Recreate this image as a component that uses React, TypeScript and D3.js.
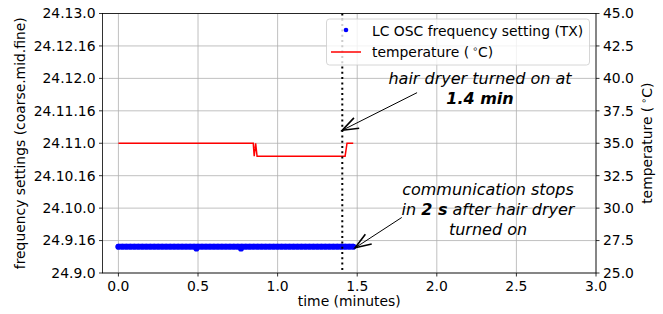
import * as d3 from "d3";

// frequency setting samples: time (minutes) and fine steps above 24.9.0
const freqTimes = [
  0, 0.025, 0.05, 0.075, 0.1, 0.125, 0.15, 0.175, 0.2, 0.225, 0.25, 0.275, 0.3,
  0.325, 0.35, 0.375, 0.4, 0.425, 0.45, 0.475, 0.49, 0.5, 0.525, 0.55, 0.575,
  0.6, 0.625, 0.65, 0.675, 0.7, 0.725, 0.75, 0.77, 0.775, 0.8, 0.825, 0.85,
  0.875, 0.9, 0.925, 0.95, 0.975, 1.0, 1.025, 1.05, 1.075, 1.1, 1.125, 1.15,
  1.175, 1.2, 1.225, 1.25, 1.275, 1.3, 1.325, 1.35, 1.375, 1.4, 1.425, 1.45,
  1.475,
];
const freqSteps = [
  13, 13, 13, 13, 13, 13, 13, 13, 13, 13, 13, 13, 13, 13, 13, 13, 13, 13, 13,
  13, 12, 13, 13, 13, 13, 13, 13, 13, 13, 13, 13, 13, 12, 13, 13, 13, 13, 13,
  13, 13, 13, 13, 13, 13, 13, 13, 13, 13, 13, 13, 13, 13, 13, 13, 13, 13, 13,
  13, 13, 13, 13, 13,
];

// temperature trace
const tempTimes = [0, 0.847, 0.853, 0.862, 0.871, 1.424, 1.436, 1.475];
const tempValues = [35, 35, 34, 35, 34, 34, 35, 35];

const xTicks = [0, 0.5, 1.0, 1.5, 2.0, 2.5, 3.0];
const leftTickSteps = [0, 16, 32, 48, 64, 80, 96, 112, 128];
const leftTickLabels = [
  "24.9.0", "24.9.16", "24.10.0", "24.10.16", "24.11.0",
  "24.11.16", "24.12.0", "24.12.16", "24.13.0",
];
const rightTicks = [25, 27.5, 30, 32.5, 35, 37.5, 40, 42.5, 45];

const dryerOnTime = 1.4;

const W = 663;
const H = 314;
const FONT = "DejaVu Sans, sans-serif";
const FS = 13.9;

function Arrow({ x1, y1, x2, y2 }: { x1: number; y1: number; x2: number; y2: number }) {
  // x2,y2 is the tip
  const a = Math.atan2(y1 - y2, x1 - x2);
  const len = 17;
  const spread = (20 * Math.PI) / 180;
  const p1 = [x2 + len * Math.cos(a + spread), y2 + len * Math.sin(a + spread)];
  const p2 = [x2 + len * Math.cos(a - spread), y2 + len * Math.sin(a - spread)];
  return (
    <g fill="none" stroke="black">
      <line x1={x1} y1={y1} x2={x2} y2={y2} strokeWidth={1} />
      <path d={`M${p1[0]},${p1[1]}L${x2},${y2}L${p2[0]},${p2[1]}`} strokeWidth={1.6} />
    </g>
  );
}

const Deg = () => (
  <>
    <tspan dx={3} dy={-5} fontSize={9.5}>∘</tspan>
    <tspan dy={5}>C)</tspan>
  </>
);

export default function App() {
  const x = d3.scaleLinear().domain([-0.1, 3.0]).range([102.5, 596]);
  const yL = d3.scaleLinear().domain([0, 128]).range([273, 13.5]);
  const yR = d3.scaleLinear().domain([25, 45]).range([273, 13.5]);

  const tempLine = d3
    .line<number>()
    .x((_, i) => x(tempTimes[i]))
    .y((d) => yR(d));

  // dense samples overlap into a band
  const freqBand = d3
    .line<number>()
    .x((_, i) => x(freqTimes[i]))
    .y((d) => yL(d));

  const left = x.range()[0];
  const right = x.range()[1];
  const top = yL.range()[1];
  const bottom = yL.range()[0];

  return (
    <svg
      width={W}
      height={H}
      style={{ position: "absolute", left: 0, top: 0, background: "white" }}
      fontFamily={FONT}
    >
      {/* grid */}
      <g stroke="#b0b0b0" strokeWidth={0.8}>
        {xTicks.map((t) => (
          <line key={"gx" + t} x1={x(t)} x2={x(t)} y1={top} y2={bottom} />
        ))}
        {leftTickSteps.map((t) => (
          <line key={"gy" + t} x1={left} x2={right} y1={yL(t)} y2={yL(t)} />
        ))}
      </g>

      {/* temperature */}
      <path d={tempLine(tempValues) || ""} fill="none" stroke="#ff0000" strokeWidth={1.5} />

      {/* frequency setting */}
      <path
        d={freqBand(freqSteps.map(() => 13)) || ""}
        fill="none"
        stroke="#0000ff"
        strokeWidth={5.8}
        strokeLinecap="round"
      />
      <g fill="#0000ff">
        {freqTimes.map((t, i) => (
          <circle key={i} cx={x(t)} cy={yL(freqSteps[i])} r={2.9} />
        ))}
      </g>

      {/* hair dryer on */}
      <line
        x1={x(dryerOnTime) + 1}
        x2={x(dryerOnTime) + 1}
        y1={top}
        y2={bottom}
        stroke="black"
        strokeWidth={2}
        strokeDasharray="2,3.3"
      />

      {/* spines */}
      <rect x={left} y={top} width={right - left} height={bottom - top} fill="none" stroke="black" strokeWidth={0.8} />

      {/* x axis */}
      <g fontSize={FS} textAnchor="middle">
        {xTicks.map((t) => (
          <g key={"xt" + t}>
            <line x1={x(t)} x2={x(t)} y1={bottom} y2={bottom + 3.5} stroke="black" strokeWidth={0.8} />
            <text x={x(t)} y={291}>{t.toFixed(1)}</text>
          </g>
        ))}
        <text x={(left + right) / 2} y={306}>time (minutes)</text>
      </g>

      {/* left axis */}
      <g fontSize={FS} textAnchor="end">
        {leftTickSteps.map((t, i) => (
          <g key={"yl" + t}>
            <line x1={left - 3.5} x2={left} y1={yL(t)} y2={yL(t)} stroke="black" strokeWidth={0.8} />
            <text x={left - 7} y={yL(t)} dy="0.35em">{leftTickLabels[i]}</text>
          </g>
        ))}
      </g>
      <text
        transform={`translate(25,${(top + bottom) / 2}) rotate(-90)`}
        textAnchor="middle"
        fontSize={FS}
      >
        frequency settings (coarse.mid.fine)
      </text>

      {/* right axis */}
      <g fontSize={FS} textAnchor="start">
        {rightTicks.map((t) => (
          <g key={"yr" + t}>
            <line x1={right} x2={right + 3.5} y1={yR(t)} y2={yR(t)} stroke="black" strokeWidth={0.8} />
            <text x={right + 7} y={yR(t)} dy="0.35em">{t.toFixed(1)}</text>
          </g>
        ))}
      </g>
      <text
        transform={`translate(652,${(top + bottom) / 2}) rotate(-90)`}
        textAnchor="middle"
        fontSize={FS}
      >
        temperature (<Deg />
      </text>

      {/* legend */}
      <rect x={326.5} y={19} width={263} height={46} rx={3} fill="white" fillOpacity={0.8} stroke="#cccccc" strokeWidth={0.8} />
      <circle cx={346} cy={30} r={2.3} fill="#0000ff" />
      <line x1={331} x2={361} y1={52} y2={52} stroke="#ff0000" strokeWidth={1.5} />
      <g fontSize={FS}>
        <text x={372} y={35.5}>LC OSC frequency setting (TX)</text>
        <text x={372} y={57}>
          temperature (<Deg />
        </text>
      </g>

      {/* annotations */}
      <Arrow x1={x(1.876)} y1={yR(38.9)} x2={x(dryerOnTime) + 1} y2={yR(36)} />
      <g fontSize={16} fontStyle="italic" textAnchor="middle">
        <text x={480} y={84}>hair dryer turned on at</text>
        <text x={480} y={104} fontWeight="bold">1.4 min</text>
      </g>

      <Arrow x1={x(1.78)} y1={yR(29.28)} x2={x(1.487)} y2={yR(26.94)} />
      <g fontSize={16} fontStyle="italic" textAnchor="middle">
        <text x={488} y={195}>communication stops</text>
        <text x={488} y={215}>
          in <tspan fontWeight="bold">2 s</tspan> after hair dryer
        </text>
        <text x={488} y={235}>turned on</text>
      </g>
    </svg>
  );
}
